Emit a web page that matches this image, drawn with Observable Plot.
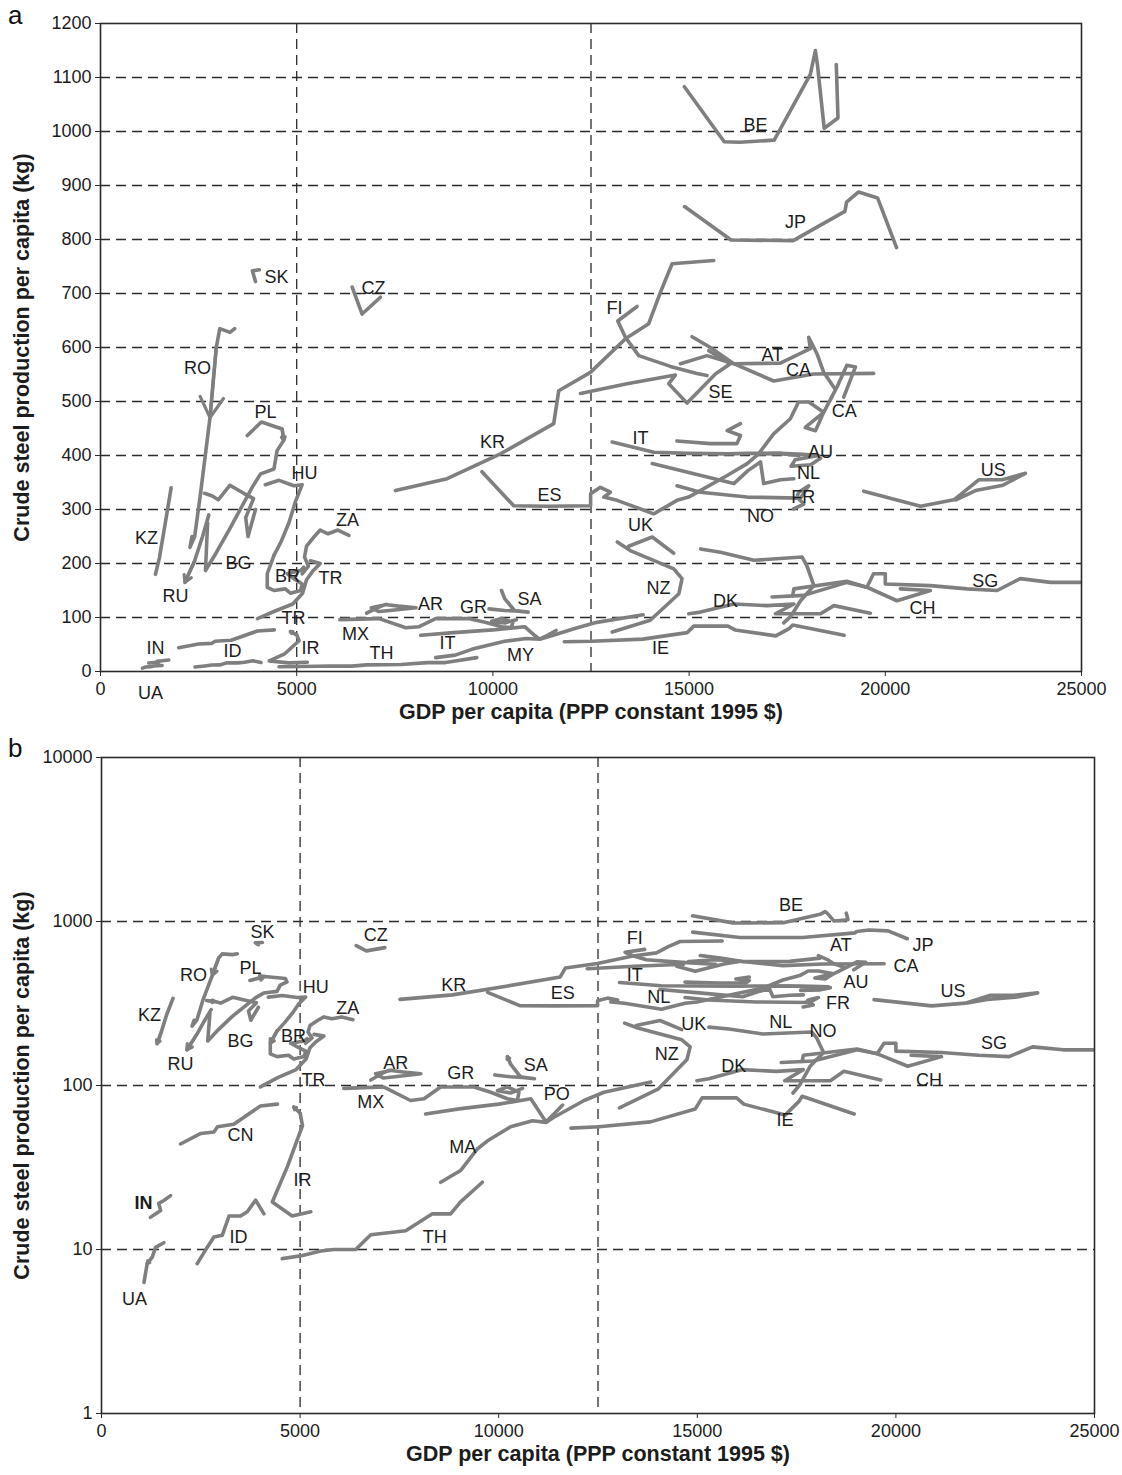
<!DOCTYPE html>
<html><head><meta charset="utf-8">
<script src="https://cdn.jsdelivr.net/npm/d3@7"></script>
<script src="https://cdn.jsdelivr.net/npm/@observablehq/plot@0.6"></script>
<style>
body{margin:0;background:#fff;font-family:"Liberation Sans",Arial,sans-serif;}
#wrap{position:relative;width:1122px;height:1475px;}
#wrap svg{display:block;}
.letter{position:absolute;font-size:26px;color:#111;line-height:1;}
</style></head><body><div id="wrap"></div>
<script>
// ---- trajectories: [GDP per capita, crude steel per capita (kg)] ----
const BE = [[14880,1083],[15895,981],[16290,980],[17168,984],[18090,1106],[18218,1150],[18270,1124],[18443,1006],[18794,1025],[18751,1124]];
const JP = [[14883,861],[16070,799],[17652,798],[18970,852],[19013,869],[19321,888],[19803,877],[20287,785]];
const SK = [[4050,744],[3870,742],[3950,722]];
const CZ = [[6413,712],[6668,662],[7134,693]];
const RO = [[3420,635],[3300,628],[3040,635],[2950,600],[2790,470],[2550,330],[2400,250],[2280,230],[2330,250]];
const KZ = [[1800,340],[1640,270],[1500,210],[1400,180]];
const RU = [[2760,290],[2600,250],[2400,205],[2150,165]];
const BG = [[2650,330],[2850,325],[3000,318],[3300,345],[3650,330],[3900,320],[3700,285],[3760,250],[3950,300]];
const PL = [[3740,437],[4100,462],[4630,449],[4670,428],[4500,409],[4420,375],[4080,366],[3865,341],[3300,265],[2950,220],[2675,187],[2730,275]];
const HU = [[4200,346],[4550,354],[4930,344],[5140,346],[4970,315],[4800,275],[4600,240],[4420,215]];
const BR = [[4420,215],[4250,181],[4250,156],[4420,150],[4710,153],[4840,145],[5100,150],[5140,162],[4930,172],[4760,181],[5100,187],[5180,193]];
const ZA = [[5140,181],[5300,195],[5200,212],[5250,232],[5450,250],[5600,262],[5800,255],[6050,262],[6330,252]];
const TR = [[4000,98],[4450,112],[4900,125],[5150,145],[5250,170],[5400,185],[5600,200],[5350,205]];
const CN = [[1990,44],[2500,51],[2830,52],[2920,56],[3330,58],[4000,75],[4430,77]];
const IN = [[1230,15.7],[1490,17.3],[1440,19.1],[1570,19.9],[1740,21.3]];
const UA = [[1570,11],[1360,10.3],[1280,9],[1150,8.2],[1070,6.3]];
const ID = [[2410,8.2],[2660,10.3],[2830,11.9],[3040,12.2],[3210,16],[3500,16],[3670,17],[3880,20],[4090,16.5]];
const IR = [[5270,17],[4800,16],[4300,19.5],[4680,32],[5060,57],[5000,68],[4840,74]];
const TH = [[4550,8.8],[5060,9.2],[5520,9.8],[5850,10],[6400,10],[6780,12.3],[7660,13],[8330,16.5],[8790,16.5],[9040,19.5],[9590,25.7]];
const MA = [[8540,25.7],[9040,30.3],[9460,41],[9720,46],[10300,56],[10850,61],[11190,59.6],[11390,64],[12150,81],[12650,91],[13830,105]];
const PO = [[8160,67],[9000,72],[10000,77],[10810,83],[11060,67],[11190,60],[11390,67],[11610,76]];
const MX = [[6100,96],[6600,97],[7100,98],[7780,81],[8120,83],[8540,98]];
const AR = [[6780,108],[7050,118],[7250,124],[7600,121],[8040,118],[7500,114],[7100,111],[6900,118],[7300,124]];
const GR = [[8580,98],[9380,98],[9800,91],[10220,83],[10470,81],[10510,91],[10220,98],[9970,93],[10300,90],[10600,96]];
const SA = [[9900,116],[10300,113],[10600,112],[10900,110],[10550,113],[10300,135],[10220,150]];
const KR = [[7516,335],[8834,357],[10192,403],[11550,459],[11678,520],[12485,554],[13377,616],[13971,644],[14269,702],[14567,755],[15627,761]];
const ES = [[9720,370],[10530,307],[11380,306],[12490,307],[12490,329],[12740,341],[12995,332],[12825,323],[13164,317],[14098,292],[14693,317],[14990,323],[15970,363],[16480,385],[16770,403],[17155,440],[17580,468],[17790,499],[18050,499],[18430,480],[18220,446],[17960,452],[18430,480],[18770,527],[19020,567],[19240,564],[18940,508]];
const FI = [[13674,676],[13181,649],[13377,619],[13716,585],[14524,565],[15200,552],[15458,548]];
const SE = [[12230,515],[13418,533],[14651,549],[14481,533],[14948,497],[15670,551],[16052,570],[15500,594]];
const CA = [[15076,620],[15543,600],[16138,570],[17155,538],[18175,551],[19704,552]];
const AT = [[14779,570],[15458,585],[16138,570],[17326,571],[18090,598],[18048,619],[18261,588],[18430,554],[18700,525]];
const IT = [[13040,425],[14100,406],[15000,404],[16000,403],[16480,404],[17300,404],[17800,400]];
const IT2 = [[14690,427],[15540,422],[16220,422],[16310,437],[15970,446],[16310,459]];
const AU = [[16800,403],[17300,404],[17900,402],[18300,400],[17700,392],[17600,380],[18100,383],[18350,395]];
const NL = [[14060,385],[15120,366],[16140,348],[16500,372],[16820,388],[16900,348],[17330,355],[17670,357]];
const FR = [[14693,344],[15288,332],[16477,323],[17836,321],[18048,344],[17793,332],[17750,323],[17920,310],[17665,301]];
const UK = [[13460,232],[14060,249],[14610,219]];
const NZ = [[13170,240],[13500,224],[14610,190],[14820,172],[14740,144],[14010,95],[13040,73]];
const NO = [[15290,227],[15800,221],[16650,206],[17880,212],[18000,196],[18180,159],[17840,131],[17580,101],[17410,90]];
const DK = [[14990,107],[15290,110],[16140,125],[16990,122],[17670,125],[17200,107],[18350,107],[18690,122],[19620,108]];
const IE = [[11820,55],[12520,56],[13820,60],[14950,72],[15120,84],[15990,84],[16170,77],[17210,66],[17560,80],[17640,86],[18950,67]];
const CH = [[17114,138],[17920,141],[19024,165],[19534,156],[20298,131],[21148,150],[20383,153]];
const SG = [[17640,140],[17670,153],[19020,167],[19530,156],[19700,181],[20000,181],[20000,162],[21150,159],[22080,153],[22850,150],[23440,172],[24210,165],[24970,165]];
const US = [[19450,334],[20900,306],[21750,318],[22380,355],[22980,355],[23570,367],[23000,345],[22300,335],[21800,318]];

// ---- labels: [text, x, y, bold] ----
const labelsA = [["BE",16690,1011],["JP",17710,832],["SK",4485,730],["CZ",6956,709],["FI",13097,672],["RO",2472,561],["AT",17123,585],["CA",17785,557],["SE",15798,517],["CA",18957,482],["PL",4204,480],["KR",9988,424],["IT",13759,432],["AU",18346,406],["HU",5198,367],["NL",18040,367],["US",22754,372],["ES",11441,326],["FR",17912,323],["KZ",1172,246],["ZA",6294,281],["UK",13759,270],["NO",16817,287],["BG",3516,200],["BR",4765,176],["TR",5860,172],["SG",22550,168],["RU",1911,139],["NZ",14218,154],["DK",15925,131],["CH",20945,117],["AR",8408,124],["GR",9504,119],["SA",10931,133],["TR",4918,98],["MX",6497,69],["IN",1401,43],["ID",3363,37],["IR",5351,44],["TH",7160,33],["IT",8842,52],["MY",10702,31],["IE",14269,43],["UA",1274,-41]];
const labelsB = [["BE",17356,1253],["SK",4056,857],["CZ",6902,822],["FI",13426,787],["AT",18615,714],["JP",20681,714],["CA",20253,532],["RO",2318,469],["IT",13426,469],["PL",3753,517],["AU",18993,425],["HU",5391,396],["KR",8867,407],["ES",11613,364],["NL",14031,344],["US",21436,374],["FR",18540,316],["KZ",1209,267],["ZA",6197,295],["UK",14912,235],["NL",17104,242],["BG",3501,185],["NO",18162,213],["BR",4836,199],["SG",22470,180],["RU",1990,134],["NZ",14232,155],["DK",15920,131],["AR",7406,136],["SA",10933,132],["GR",9043,118],["TR",5340,107],["CH",20832,107],["PO",11461,89],["MX",6776,79],["IE",17205,61],["MA",9094,42],["CN",3501,50],["IR",5063,26.4],["IN",1058,19.1,true],["ID",3451,11.8],["TH",8388,11.8],["UA",831,5.0]];

// ---- arrowheads: [series, vertex index] ----
const arrowsA = [["RO",4],["PL",3],["RU",3],["IR",6]];
const arrowsB = [["RO",4],["PL",1],["BG",1],["KZ",3],["RU",3],["BR",1],["IR",6],["UA",3],["SA",6]];

const xTicks = [0,5000,10000,15000,20000,25000];
const xGrid = [5000,12500];
const yTicksA = [0,100,200,300,400,500,600,700,800,900,1000,1100,1200];
const yGridA = [100,200,300,400,500,600,700,800,900,1000,1100];
const yTicksB = [1,10,100,1000,10000];
const yGridB = [10,100,1000];

const series = {BE,JP,SK,CZ,RO,KZ,RU,BG,PL,HU,BR,ZA,TR,CN,IN,UA,ID,IR,TH,MA,PO,MX,AR,GR,SA,KR,ES,FI,SE,CA,AT,IT,IT2,AU,NL,FR,UK,NZ,NO,DK,IE,CH,SG,US};
const rows = Object.entries(series).flatMap(([id, pts]) => pts.map(([x, y]) => ({id, x, y})));
const arrowRows = list => list.map(([id, i]) => {
  const s = series[id];
  return {x1: s[i-1][0], y1: s[i-1][1], x2: s[i][0], y2: s[i][1]};
});
const labelRows = list => list.map(([text, x, y, bold]) => ({text, x, y, bold: !!bold}));

const GRAY = "#7f7f7f";
const INK = "#1c1c1c";

function panel({height, mt, mb, ml, mr, yType, yDomain, yTicks, yGrid, labels, arrows}) {
  return Plot.plot({
    width: 1122, height,
    marginTop: mt, marginBottom: mb, marginLeft: ml, marginRight: mr,
    style: {fontFamily: "'Liberation Sans', Arial, sans-serif", fontSize: "18px", color: INK, background: "white", overflow: "visible"},
    x: {domain: [0, 25000]},
    y: {type: yType, domain: yDomain},
    marks: [
      Plot.ruleY(yGrid, {stroke: "#2a2a2a", strokeWidth: 1.3, strokeDasharray: "10,6"}),
      Plot.ruleX(xGrid, {stroke: "#2a2a2a", strokeWidth: 1.3, strokeDasharray: "10,6"}),
      Plot.line(rows, {x: "x", y: "y", z: "id", stroke: GRAY, strokeWidth: 3.6, strokeLinejoin: "round", strokeLinecap: "round"}),
      Plot.arrow(arrowRows(arrows), {x1: "x1", y1: "y1", x2: "x2", y2: "y2", stroke: GRAY, strokeWidth: 3.2, headLength: 11}),
      Plot.text(labelRows(labels).filter(d => !d.bold), {x: "x", y: "y", text: "text", fill: INK, fontSize: 18}),
      Plot.text(labelRows(labels).filter(d => d.bold), {x: "x", y: "y", text: "text", fill: INK, fontSize: 18, fontWeight: "bold"}),
      Plot.frame({stroke: "#2a2a2a", strokeWidth: 1.6}),
      Plot.axisX({ticks: xTicks, tickFormat: d => String(d), tickSize: 5, tickPadding: 6, label: null, fontSize: 18, stroke: "#2a2a2a"}),
      Plot.axisY({ticks: yTicks, tickFormat: d => String(d), tickSize: 5, tickPadding: 4, label: null, fontSize: 18, stroke: "#2a2a2a"}),
      Plot.text(["GDP per capita (PPP constant 1995 $)"], {frameAnchor: "bottom", dy: 47, text: d => d, fontWeight: "bold", fontSize: 21.5, fill: INK}),
      Plot.text(["Crude steel production per capita (kg)"], {frameAnchor: "left", dx: -(ml - 22), rotate: -90, textAnchor: "middle", text: d => d, fontWeight: "bold", fontSize: 21.5, fill: INK})
    ]
  });
}

const wrap = document.getElementById("wrap");
wrap.append(panel({height: 740, mt: 23, mb: 69, ml: 100, mr: 41, yType: "linear", yDomain: [0, 1200], yTicks: yTicksA, yGrid: yGridA, labels: labelsA, arrows: arrowsA}));
wrap.append(panel({height: 735, mt: 17, mb: 62, ml: 101, mr: 28, yType: "log", yDomain: [1, 10000], yTicks: yTicksB, yGrid: yGridB, labels: labelsB, arrows: arrowsB}));

const la = document.createElement("div"); la.className = "letter"; la.textContent = "a"; la.style.left = "8px"; la.style.top = "2px"; wrap.append(la);
const lb = document.createElement("div"); lb.className = "letter"; lb.textContent = "b"; lb.style.left = "8px"; lb.style.top = "735px"; wrap.append(lb);
</script></body></html>
